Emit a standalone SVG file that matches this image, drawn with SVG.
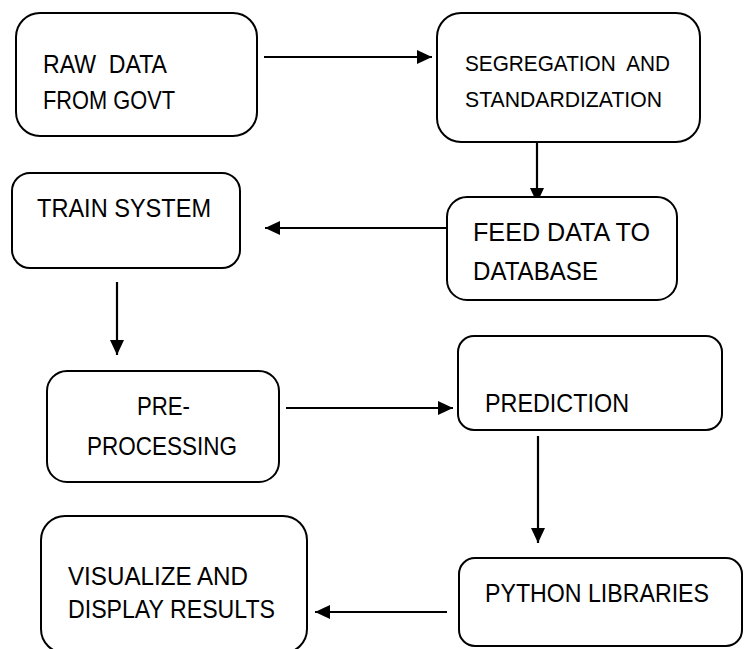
<svg xmlns="http://www.w3.org/2000/svg" width="747" height="649" viewBox="0 0 747 649">
<style>
.box{fill:#fff;stroke:#000;stroke-width:2}
.t{font-family:"Liberation Sans",Arial,sans-serif;font-size:25px;fill:#000}
.s{font-size:22.5px}
.c{stroke:#000;stroke-width:2.2;fill:none}
</style>
<defs>
<marker id="ah" viewBox="0 0 15 14" refX="15" refY="7" markerWidth="15" markerHeight="14" markerUnits="userSpaceOnUse" orient="auto">
<path d="M0,0 L15,7 L0,14 Z" fill="#000"/>
</marker>
</defs>
<rect width="747" height="649" fill="#fff"/>
<g id="connectors">
<line class="c" x1="264" y1="57" x2="432" y2="57" marker-end="url(#ah)"/>
<line class="c" x1="537" y1="142" x2="537" y2="203" marker-end="url(#ah)"/>
<line class="c" x1="447" y1="228" x2="265" y2="228" marker-end="url(#ah)"/>
<line class="c" x1="117" y1="282" x2="117" y2="355" marker-end="url(#ah)"/>
<line class="c" x1="286" y1="408" x2="453" y2="408" marker-end="url(#ah)"/>
<line class="c" x1="538" y1="436" x2="538" y2="543" marker-end="url(#ah)"/>
<line class="c" x1="447" y1="612" x2="315" y2="612" marker-end="url(#ah)"/>
</g>
<g id="raw">
<rect class="box" x="16" y="13" width="241" height="123" rx="24"/>
<text class="t" x="43" y="73" textLength="124" lengthAdjust="spacingAndGlyphs" xml:space="preserve">RAW  DATA</text>
<text class="t" x="43" y="109" textLength="132" lengthAdjust="spacingAndGlyphs">FROM GOVT</text>
</g>
<g id="segregation">
<rect class="box" x="437" y="13" width="263" height="129" rx="24"/>
<text class="t s" x="465" y="71" textLength="205" lengthAdjust="spacingAndGlyphs" xml:space="preserve">SEGREGATION  AND</text>
<text class="t s" x="465" y="107" textLength="197" lengthAdjust="spacingAndGlyphs">STANDARDIZATION</text>
</g>
<g id="feed">
<rect class="box" x="447" y="197" width="230" height="103" rx="20"/>
<text class="t" x="473" y="241" textLength="177" lengthAdjust="spacingAndGlyphs">FEED DATA TO</text>
<text class="t" x="473" y="280" textLength="125" lengthAdjust="spacingAndGlyphs">DATABASE</text>
</g>
<g id="train">
<rect class="box" x="12" y="173" width="228" height="95" rx="18"/>
<text class="t" x="37" y="217" textLength="174" lengthAdjust="spacingAndGlyphs">TRAIN SYSTEM</text>
</g>
<g id="preprocessing">
<rect class="box" x="47" y="371" width="232" height="111" rx="20"/>
<text class="t" x="137" y="415" textLength="53" lengthAdjust="spacingAndGlyphs">PRE-</text>
<text class="t" x="87" y="455" textLength="150" lengthAdjust="spacingAndGlyphs">PROCESSING</text>
</g>
<g id="prediction">
<rect class="box" x="458" y="336" width="264" height="94" rx="16"/>
<text class="t" x="485" y="412" textLength="144" lengthAdjust="spacingAndGlyphs">PREDICTION</text>
</g>
<g id="python">
<rect class="box" x="459" y="558" width="283" height="88" rx="16"/>
<text class="t" x="485" y="602" textLength="224" lengthAdjust="spacingAndGlyphs">PYTHON LIBRARIES</text>
</g>
<g id="visualize">
<rect class="box" x="41" y="516" width="266" height="137" rx="24"/>
<text class="t" x="68" y="585" textLength="180" lengthAdjust="spacingAndGlyphs">VISUALIZE AND</text>
<text class="t" x="68" y="618" textLength="207" lengthAdjust="spacingAndGlyphs">DISPLAY RESULTS</text>
</g>
</svg>
